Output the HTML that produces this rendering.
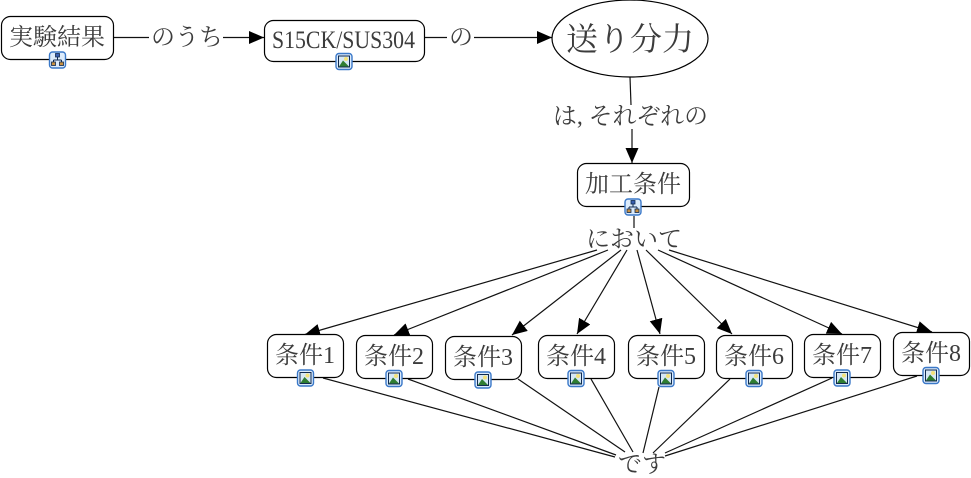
<!DOCTYPE html>
<html><head><meta charset="utf-8">
<style>
html,body{margin:0;padding:0;background:#fff;width:971px;height:478px;overflow:hidden}
svg{display:block}
text{font-family:"Liberation Serif","Noto Serif CJK SC","Noto Serif CJK JP",serif;fill:#3c3c3c;font-size:24px}
.n{fill:#fff;stroke:#000;stroke-width:1.2}
.l{stroke:#111;stroke-width:1.2;fill:none}
</style></head><body>
<svg width="971" height="478" viewBox="0 0 971 478" xmlns="http://www.w3.org/2000/svg">
<defs>
<marker id="a" markerUnits="userSpaceOnUse" markerWidth="16" markerHeight="14" refX="15" refY="6.5" orient="auto"><path d="M0 0L15 6.5L0 13Z" fill="#000"/></marker>
<g id="pic">
<rect x="-8" y="-8" width="16" height="16" rx="3" fill="#dcebfb" stroke="#3a78c8" stroke-width="1.4"/>
<rect x="-5.5" y="-5.5" width="11" height="11" fill="#d6e8f5" stroke="#102a50" stroke-width="1"/>
<circle cx="2" cy="-2.5" r="2" fill="#f4e27a"/>
<path d="M-5 5L-1 -1L5 5Z" fill="#2f7d32"/>
</g>
<g id="map">
<rect x="-8" y="-8" width="16" height="16" rx="3" fill="#dcebfb" stroke="#3a78c8" stroke-width="1.4"/>
<path d="M0 -3V0M-4 0H4M-4 0V2M4 0V2" stroke="#102a50" stroke-width="1" fill="none"/>
<rect x="-2" y="-6.5" width="4" height="3.5" fill="#3a5fb0" stroke="#102a50" stroke-width=".8"/>
<rect x="-6" y="2" width="4" height="3.5" fill="#c89040" stroke="#102a50" stroke-width=".8"/>
<rect x="2" y="2" width="4" height="3.5" fill="#c89040" stroke="#102a50" stroke-width=".8"/>
</g>
</defs>

<!-- top connectors -->
<line class="l" x1="114" y1="37.5" x2="149" y2="37.5"/>
<line class="l" x1="223" y1="37.5" x2="264" y2="37.5" marker-end="url(#a)"/>
<line class="l" x1="425" y1="37.5" x2="447" y2="37.5"/>
<line class="l" x1="474" y1="37.5" x2="552" y2="37.5" marker-end="url(#a)"/>
<line class="l" x1="630" y1="77" x2="631" y2="105"/>
<line class="l" x1="632" y1="129" x2="632" y2="163" marker-end="url(#a)"/>
<line class="l" x1="634" y1="216" x2="634" y2="228"/>

<!-- fan out -->
<line class="l" x1="597" y1="250" x2="305" y2="334.5" marker-end="url(#a)"/>
<line class="l" x1="608" y1="250" x2="394" y2="335" marker-end="url(#a)"/>
<line class="l" x1="621" y1="250" x2="512" y2="335" marker-end="url(#a)"/>
<line class="l" x1="627" y1="250" x2="577" y2="334" marker-end="url(#a)"/>
<line class="l" x1="637" y1="250" x2="660" y2="334" marker-end="url(#a)"/>
<line class="l" x1="646" y1="250" x2="732" y2="334" marker-end="url(#a)"/>
<line class="l" x1="658" y1="250" x2="842" y2="334" marker-end="url(#a)"/>
<line class="l" x1="669" y1="250" x2="932" y2="332" marker-end="url(#a)"/>

<!-- fan in -->
<line class="l" x1="323" y1="378" x2="615" y2="457"/>
<line class="l" x1="408" y1="379" x2="616" y2="455"/>
<line class="l" x1="518" y1="379" x2="625" y2="452"/>
<line class="l" x1="591" y1="379" x2="633" y2="452"/>
<line class="l" x1="659" y1="387" x2="643" y2="453"/>
<line class="l" x1="730" y1="379" x2="653" y2="453"/>
<line class="l" x1="832" y1="378" x2="665" y2="453"/>
<line class="l" x1="917" y1="376" x2="665" y2="456"/>

<!-- nodes -->
<rect class="n" x="1.5" y="16.5" width="112" height="43" rx="9"/>
<rect class="n" x="264.5" y="20.5" width="160" height="41" rx="9"/>
<ellipse class="n" cx="630" cy="38.5" rx="78" ry="38.5"/>
<rect class="n" x="577.5" y="163.5" width="112" height="43" rx="9"/>
<rect class="n" x="267.5" y="334.5" width="76" height="43" rx="9"/>
<rect class="n" x="356.5" y="335.5" width="76" height="43" rx="9"/>
<rect class="n" x="445.5" y="336.5" width="76" height="43" rx="9"/>
<rect class="n" x="538.5" y="335.5" width="76" height="43" rx="9"/>
<rect class="n" x="628.5" y="335.5" width="76" height="43" rx="9"/>
<rect class="n" x="716.5" y="335.5" width="76" height="43" rx="9"/>
<rect class="n" x="804.5" y="334.5" width="76" height="43" rx="9"/>
<rect class="n" x="893.5" y="332.5" width="76" height="43" rx="9"/>

<!-- labels -->
<text x="9" y="45" textLength="96" lengthAdjust="spacingAndGlyphs">実験結果</text>
<text x="151" y="45" textLength="72" lengthAdjust="spacingAndGlyphs">のうち</text>
<text x="272" y="48" textLength="143" lengthAdjust="spacingAndGlyphs" style="font-size:25px">S15CK/SUS304</text>
<text x="449" y="45">の</text>
<text x="566" y="50" style="font-size:32px" textLength="128" lengthAdjust="spacingAndGlyphs">送り分力</text>
<text x="553" y="124" textLength="155" lengthAdjust="spacingAndGlyphs">は, それぞれの</text>
<text x="585" y="192" textLength="96" lengthAdjust="spacingAndGlyphs">加工条件</text>
<text x="586" y="247" textLength="96" lengthAdjust="spacingAndGlyphs">において</text>
<text x="275" y="363" textLength="60" lengthAdjust="spacingAndGlyphs">条件1</text>
<text x="364" y="364" textLength="60" lengthAdjust="spacingAndGlyphs">条件2</text>
<text x="453" y="365" textLength="60" lengthAdjust="spacingAndGlyphs">条件3</text>
<text x="546" y="364" textLength="60" lengthAdjust="spacingAndGlyphs">条件4</text>
<text x="636" y="364" textLength="60" lengthAdjust="spacingAndGlyphs">条件5</text>
<text x="724" y="364" textLength="60" lengthAdjust="spacingAndGlyphs">条件6</text>
<text x="812" y="363" textLength="60" lengthAdjust="spacingAndGlyphs">条件7</text>
<text x="901" y="361" textLength="60" lengthAdjust="spacingAndGlyphs">条件8</text>
<text x="618" y="472" textLength="48" lengthAdjust="spacingAndGlyphs">です</text>

<!-- icons -->
<use href="#map" x="57.5" y="60"/>
<use href="#pic" x="344" y="61.5"/>
<use href="#map" x="633" y="207"/>
<use href="#pic" x="305.5" y="378"/>
<use href="#pic" x="394" y="378.5"/>
<use href="#pic" x="483" y="380"/>
<use href="#pic" x="576" y="378.5"/>
<use href="#pic" x="666" y="378.5"/>
<use href="#pic" x="754" y="378.5"/>
<use href="#pic" x="842" y="378"/>
<use href="#pic" x="931" y="375.5"/>
</svg>
</body></html>
